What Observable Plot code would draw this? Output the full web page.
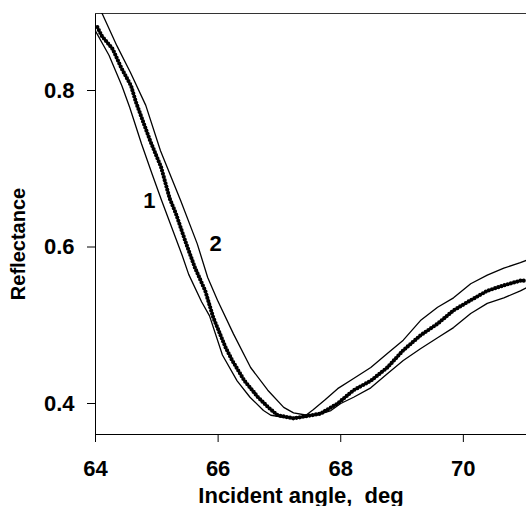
<!DOCTYPE html>
<html><head><meta charset="utf-8">
<script src="https://cdn.jsdelivr.net/npm/d3@7"></script>
<script src="https://cdn.jsdelivr.net/npm/@observablehq/plot@0.6"></script>
<style>html,body{margin:0;padding:0;background:#fff;}</style>
</head><body><div id="chart"></div>
<script>
// Curve 1 (theory, left/lower branch then upper on the right)
const curve1Angle = [64.00,64.22,64.43,64.56,64.75,64.92,65.08,65.41,65.52,65.73,65.86,66.07,66.31,66.52,66.74,66.86,67.10,67.40,67.55,67.75,67.95,68.21,68.49,68.76,69.02,69.30,69.58,69.84,70.12,70.39,70.66,70.93,71.03];
const curve1R     = [0.876,0.845,0.806,0.778,0.732,0.694,0.659,0.590,0.565,0.530,0.512,0.462,0.429,0.408,0.391,0.385,0.382,0.383,0.392,0.405,0.419,0.432,0.446,0.464,0.481,0.506,0.523,0.535,0.553,0.564,0.573,0.580,0.583];
// Curve 2 (theory, right branch)
const curve2Angle = [64.00,64.11,64.35,64.57,64.82,65.06,65.39,65.66,65.83,65.99,66.25,66.53,66.81,67.07,67.23,67.45,67.65,67.84,68.00,68.21,68.49,68.76,69.02,69.30,69.58,69.84,70.12,70.39,70.66,70.93,71.03];
const curve2R     = [0.915,0.898,0.857,0.823,0.781,0.723,0.659,0.604,0.561,0.532,0.489,0.446,0.417,0.395,0.388,0.385,0.386,0.391,0.400,0.408,0.420,0.438,0.455,0.470,0.484,0.497,0.515,0.528,0.535,0.544,0.548];
// Measured points (dotted)
const measAngle = [64.03,64.10,64.28,64.42,64.58,64.66,64.89,65.07,65.21,65.31,65.48,65.62,65.79,65.92,66.12,66.23,66.43,66.65,66.82,66.97,67.23,67.67,67.95,68.21,68.49,68.76,69.02,69.30,69.58,69.84,70.12,70.39,70.66,70.93,71.03];
const measR     = [0.881,0.870,0.853,0.829,0.806,0.785,0.736,0.702,0.662,0.643,0.604,0.574,0.544,0.510,0.472,0.455,0.429,0.408,0.395,0.385,0.381,0.387,0.400,0.417,0.429,0.446,0.468,0.487,0.502,0.519,0.532,0.544,0.551,0.557,0.557];
// Curve labels
const labelText  = ["1", "2"];
const labelAngle = [64.88, 65.96];
const labelR     = [0.659, 0.604];
// Axes
const xTicks = [64, 66, 68, 70];
const yTicks = [0.4, 0.6, 0.8];
const xDomain = [64, 71.03];
const yDomain = [0.3604, 0.8984];
const xLabel = "Incident angle,\u00a0 deg";
const yLabel = "Reflectance";

const toRows = (a, r) => a.map((v, i) => ({angle: v, R: r[i]}));
const c1 = toRows(curve1Angle, curve1R);
const c2 = toRows(curve2Angle, curve2R);
const meas = toRows(measAngle, measR);
const labels = labelText.map((t, i) => ({t, angle: labelAngle[i], R: labelR[i]}));

const chart = Plot.plot({
  width: 526, height: 506,
  marginLeft: 95, marginRight: 0, marginTop: 13, marginBottom: 72,
  x: {domain: xDomain},
  y: {domain: yDomain},
  style: {fontFamily: "'Liberation Sans', Arial, sans-serif", fontSize: "22px", fontWeight: "bold", background: "white", color: "black", overflow: "visible"},
  marks: [
    Plot.axisX({ticks: xTicks, tickSize: 8, tickPadding: 18, label: null, tickFormat: d => String(d)}),
    Plot.axisY({ticks: yTicks, tickSize: 8, tickPadding: 13, label: null, tickFormat: d3.format(".1f")}),
    Plot.ruleX([xDomain[0]], {stroke: "black", strokeWidth: 1}),
    Plot.ruleY([yDomain[0]], {stroke: "black", strokeWidth: 1}),
    Plot.ruleY([yDomain[1]], {stroke: "#333", strokeWidth: 1}),
    Plot.line(c1, {x: "angle", y: "R", stroke: "black", strokeWidth: 1.3, clip: true}),
    Plot.line(c2, {x: "angle", y: "R", stroke: "black", strokeWidth: 1.3, clip: true}),
    Plot.line(meas, {x: "angle", y: "R", stroke: "black", strokeWidth: 4.2, strokeDasharray: "0 3.3", strokeLinecap: "round", clip: true}),
    Plot.text(labels, {x: "angle", y: "R", text: "t", fontSize: 22}),
    Plot.text([yLabel], {frameAnchor: "left", textAnchor: "middle", lineAnchor: "middle", dx: -77, dy: 20, rotate: -90, fontSize: 20}),
    Plot.text([xLabel], {frameAnchor: "bottom", textAnchor: "middle", lineAnchor: "middle", dy: 61, dx: -10, fontSize: 22})
  ]
});
document.getElementById("chart").append(chart);
</script>
</body></html>
